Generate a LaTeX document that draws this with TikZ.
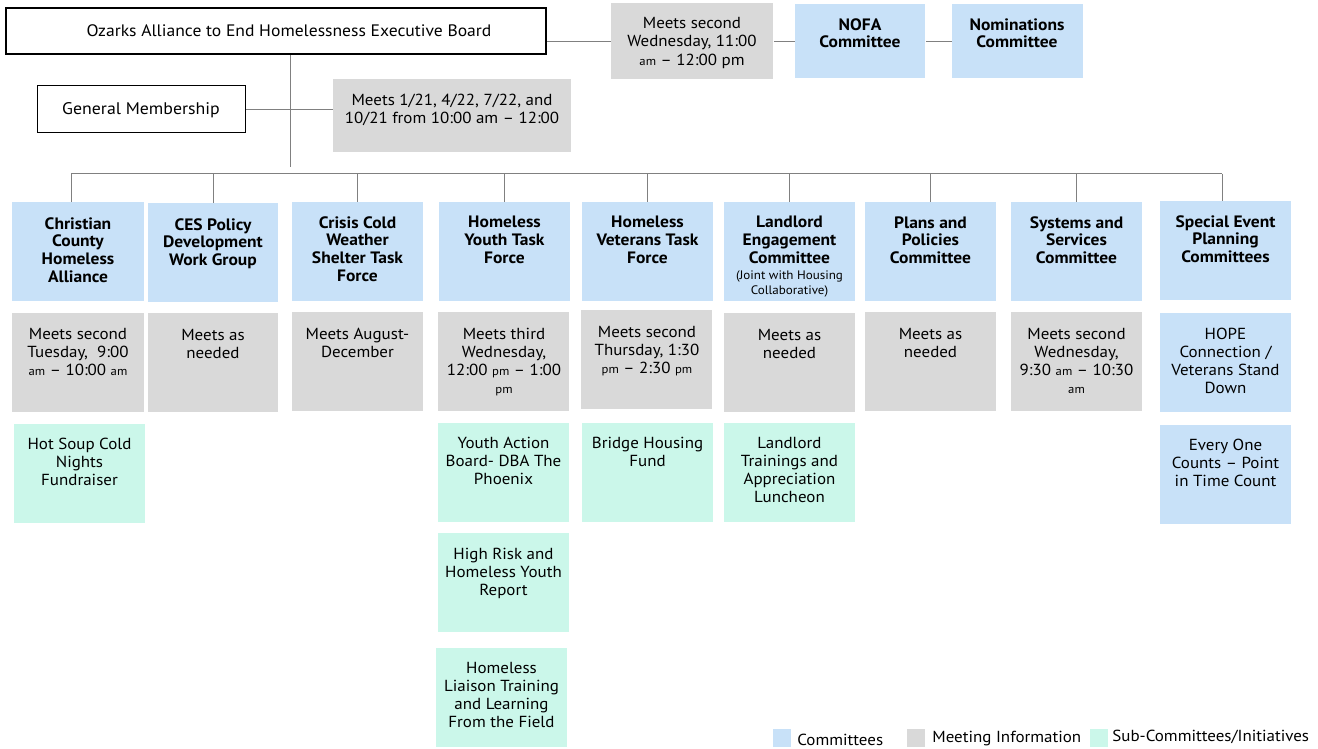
\documentclass[tikz,border=0pt]{standalone}
\usepackage{fontspec}
\setmainfont{PT Sans}[FakeStretch=1.06]
\definecolor{comblue}{RGB}{200,225,248}
\definecolor{meetgray}{RGB}{217,217,217}
\definecolor{submint}{RGB}{203,247,234}
\definecolor{linkgray}{RGB}{128,128,128}
\newcommand{\ampm}[1]{{\fontsize{12}{13}\selectfont #1}}

\tikzset{every picture/.style={line width=0.75pt}}
\tikzset{
  box/.style={anchor=north west, inner sep=0pt, minimum width=131pt, minimum height=99pt},
  com/.style={box, fill=comblue},
  meet/.style={box, fill=meetgray},
  sub/.style={box, fill=submint},
  txt/.style={anchor=north, inner sep=0pt, align=center, font=\fontsize{16}{17.9}\selectfont},
  btxt/.style={txt, font=\fontsize{16.5}{17.7}\selectfont\bfseries},
  link/.style={draw=linkgray, line width=1pt},
}

\begin{document}
\begin{tikzpicture}[x=1pt,y=1pt,yscale=-1,xscale=1]
\useasboundingbox (0,0) rectangle (1318,749);

% Top row
\node[box, draw=black, line width=2.2pt, minimum width=540pt, minimum height=46pt] (eb) at (5,7) {};
\node[meet, minimum width=162pt, minimum height=76pt] (ebm) at (611,3) {};
\node[com, minimum width=130pt, minimum height=74pt] (nofa) at (795,4) {};
\node[com, minimum height=74pt] (nom) at (952,4) {};
\node[box, draw=black, line width=1.2pt, minimum width=208pt, minimum height=47pt] (gm) at (37,85) {};
\node[meet, minimum width=238pt, minimum height=73pt] (gmm) at (333,79) {};

% Committees
\node[com, minimum width=132pt] (c1) at (12,202) {};
\node[com, minimum width=130pt] (c2) at (148,203) {};
\node[com] (c3) at (292,202) {};
\node[com] (c4) at (439,202) {};
\node[com] (c5) at (582,202) {};
\node[com] (c6) at (724,202) {};
\node[com] (c7) at (865,202) {};
\node[com] (c8) at (1011,202) {};
\node[com] (c9) at (1160,201) {};

% Meeting information
\node[meet, minimum width=132pt] (m1) at (12,313) {};
\node[meet, minimum width=130pt] (m2) at (148,313) {};
\node[meet] (m3) at (292,312) {};
\node[meet] (m4) at (438,312) {};
\node[meet] (m5) at (581,310) {};
\node[meet] (m6) at (724,313) {};
\node[meet] (m7) at (865,312) {};
\node[meet] (m8) at (1011,312) {};
\node[com] (m9) at (1160,313) {};

% Sub-committees
\node[sub] (s1) at (14,424) {};
\node[sub] (s4) at (438,423) {};
\node[sub] (s4b) at (438,533) {};
\node[sub] (s4c) at (436,648) {};
\node[sub] (s5) at (582,423) {};
\node[sub] (s6) at (724,423) {};
\node[com] (s9) at (1160,425) {};

% Connectors
\draw[link] (eb.east |- ebm.west) -- (ebm.west);
\draw[link] (ebm.east) -- (nofa.west);
\draw[link] (nofa.east) -- (nom.west);
\coordinate (trunk) at (290,167);
\draw[link] (eb.south -| trunk) -- (trunk);
\draw[link] (gm.east) -- (gm.east -| gmm.west);
\coordinate (bus) at (0,174);
\coordinate (d1) at (71,174);
\coordinate (d9) at (1222,174);
\draw[link] (d1) -- (d9);
\draw[link] (d1) -- (d1 |- c1.north);
\foreach \c in {c2,c3,c4,c5,c6,c7,c8}
  \draw[link] (\c.north |- bus) -- (\c.north);
\draw[link] (d9) -- (d9 |- c9.north);

% Text Node
\node[txt, anchor=center, font=\fontsize{16.6}{19}\selectfont] (ebt) at (289,31) {Ozarks Alliance to End Homelessness Executive Board};
\node[txt, font=\fontsize{16}{18.6}\selectfont] (ebmt) at (692,16.5) {Meets second\\Wednesday, 11:00\\\ampm{am} -- 12:00 pm};
\node[btxt] (nofat) at (860,18) {NOFA\\Committee};
\node[btxt] (nomt) at (1017,18) {Nominations\\Committee};
\node[txt, anchor=center, font=\fontsize{16.8}{19}\selectfont] (gmt) at (141,110) {General Membership};
\node[txt] (gmmt) at (452,94) {Meets 1/21, 4/22, 7/22, and\\10/21 from 10:00 am -- 12:00};

% Text Node
\node[btxt] (c1t) at (78,217) {Christian\\County\\Homeless\\Alliance};
\node[btxt] (c2t) at (213,218) {CES Policy\\Development\\Work Group};
\node[btxt] (c3t) at (357.5,216) {Crisis Cold\\Weather\\Shelter Task\\Force};
\node[btxt] (c4t) at (504.5,216) {Homeless\\Youth Task\\Force};
\node[btxt] (c5t) at (647.5,216) {Homeless\\Veterans Task\\Force};
\node[btxt] (c6t) at (789.5,216) {Landlord\\Engagement\\Committee};
\node[txt, font=\fontsize{12.3}{15}\selectfont] (c6n) at (789.5,270) {(Joint with Housing\\Collaborative)};
\node[btxt] (c7t) at (930.5,216) {Plans and\\Policies\\Committee};
\node[btxt] (c8t) at (1076.5,216) {Systems and\\Services\\Committee};
\node[btxt] (c9t) at (1225.5,215) {Special Event\\Planning\\Committees};

% Text Node
\node[txt] (m1t) at (78,328) {Meets second\\Tuesday,\ \ 9:00\\\ampm{am} -- 10:00 \ampm{am}};
\node[txt] (m2t) at (213,329) {Meets as\\needed};
\node[txt] (m3t) at (357.5,328) {Meets August-\\December};
\node[txt] (m4t) at (504,328) {Meets third\\Wednesday,\\12:00 \ampm{pm} -- 1:00\\\ampm{pm}};
\node[txt] (m5t) at (647,326) {Meets second\\Thursday, 1:30\\\ampm{pm} -- 2:30 \ampm{pm}};
\node[txt] (m6t) at (789.5,329) {Meets as\\needed};
\node[txt] (m7t) at (930.5,328) {Meets as\\needed};
\node[txt] (m8t) at (1076.5,328) {Meets second\\Wednesday,\\9:30 \ampm{am} -- 10:30\\\ampm{am}};
\node[txt] (m9t) at (1225.5,328) {HOPE\\Connection /\\Veterans Stand\\Down};

% Text Node
\node[txt] (s1t) at (79.5,438) {Hot Soup Cold\\Nights\\Fundraiser};
\node[txt] (s4t) at (503.5,437) {Youth Action\\Board- DBA The\\Phoenix};
\node[txt] (s4bt) at (503.5,548) {High Risk and\\Homeless Youth\\Report};
\node[txt] (s4ct) at (501.5,662) {Homeless\\Liaison Training\\and Learning\\From the Field};
\node[txt] (s5t) at (647.5,437) {Bridge Housing\\Fund};
\node[txt] (s6t) at (789.5,437) {Landlord\\Trainings and\\Appreciation\\Luncheon};
\node[txt] (s9t) at (1225.5,439) {Every One\\Counts -- Point\\in Time Count};

% Legend
\node[box, fill=comblue, minimum width=18pt, minimum height=18pt] (lgc) at (773,729) {};
\node[txt, anchor=west] (lgct) at (797,740) {Committees};
\node[box, fill=meetgray, minimum width=18pt, minimum height=18pt] (lgm) at (907,729) {};
\node[txt, anchor=west] (lgmt) at (932,739) {Meeting Information};
\node[box, fill=submint, minimum width=18pt, minimum height=18pt] (lgs) at (1090,729) {};
\node[txt, anchor=west] (lgst) at (1112,737) {Sub-Committees/Initiatives};

\end{tikzpicture}
\end{document}
